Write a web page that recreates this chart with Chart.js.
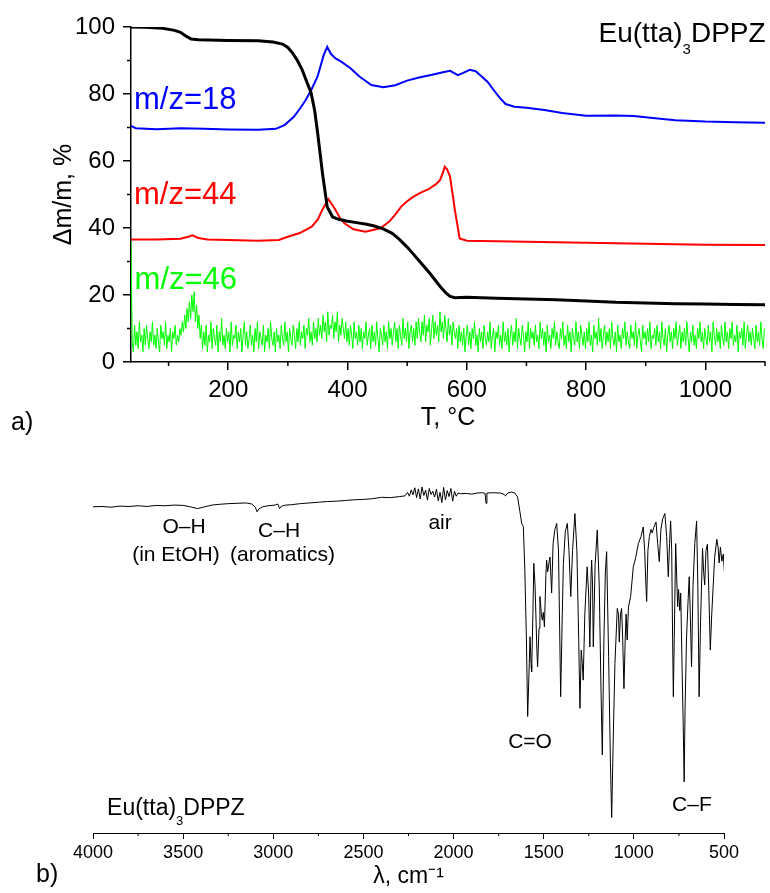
<!DOCTYPE html>
<html>
<head>
<meta charset="utf-8">
<script src="https://cdn.jsdelivr.net/npm/chart.js@4.4.1/dist/chart.umd.min.js"></script>
<style>
  body { margin: 0; background: #fff; width: 770px; height: 893px; position: relative; overflow: hidden;
         font-family: 'Liberation Sans', Arial, sans-serif; }
  canvas { position: absolute; left: 0; }
  #tga { top: 0; }
  #ir { top: 440px; }
  .panel { position: absolute; font-size: 25px; color: #000; line-height: 30px; }
</style>
</head>
<body>
<canvas id="tga" width="770" height="440"></canvas>
<canvas id="ir" width="770" height="453"></canvas>
<div class="panel" style="left:11px; top:406px;">a)</div>
<div class="panel" style="left:36px; top:858px;">b)</div>
<script>
// --- a) thermogravimetry + mass spectrometry ---
const tgaTemp = [37, 60, 90, 110, 120, 130, 138, 150, 200, 250, 275, 291, 300, 308, 316, 324, 332, 339, 345, 350,
                 358, 366, 375, 385, 398, 415, 432, 445, 459, 475, 487, 500, 509, 520, 538, 555, 565, 572, 580, 600,
                 650, 700, 750, 800, 850, 900, 950, 1000, 1050, 1100];
const tgaMass = [100.0, 99.9, 99.6, 99.0, 98.4, 97.2, 96.4, 96.2, 96.0, 95.9, 95.5, 94.9, 93.9, 92.2, 90.0, 87.2, 83.5, 80.3, 75.0, 68.3,
                 56.4, 46.3, 43.3, 42.6, 42.1, 41.6, 41.1, 40.6, 39.8, 38.4, 36.6, 34.3, 32.5, 30.2, 26.5, 22.6, 20.6, 19.6, 19.2, 19.3,
                 19.0, 18.8, 18.6, 18.2, 17.8, 17.6, 17.4, 17.3, 17.2, 17.1];

const ms18Temp = [37, 45, 80, 120, 160, 200, 250, 280, 295, 310, 320, 330, 340, 350, 360, 366, 372, 380, 390, 405,
                  420, 440, 460, 480, 500, 520, 540, 560, 572, 585, 595, 605, 615, 625, 635, 645, 655, 665, 680, 700,
                  730, 760, 800, 850, 880, 920, 950, 1000, 1050, 1100];
const ms18 = [70.5, 69.8, 69.5, 69.8, 69.6, 69.4, 69.3, 69.6, 70.8, 73.2, 75.6, 78.2, 81.5, 85.3, 91.6, 94.1, 92.0, 90.6, 89.6, 87.7,
              85.2, 82.7, 82.0, 82.6, 84.0, 84.9, 85.7, 86.5, 86.9, 85.6, 86.4, 87.2, 86.8, 85.2, 83.6, 81.2, 78.9, 77.0, 76.2, 75.9,
              75.2, 74.3, 73.5, 73.6, 73.4, 72.7, 72.2, 71.8, 71.6, 71.4];

const ms44Temp = [37, 80, 120, 133, 140, 150, 165, 200, 250, 285, 300, 320, 340, 350, 358, 368, 374, 380, 388, 395,
                  410, 430, 455, 470, 480, 490, 500, 510, 522, 535, 548, 555, 560, 563, 567, 572, 580, 588, 600, 700,
                  800, 900, 1000, 1100];
const ms44 = [36.6, 36.6, 36.8, 37.4, 37.8, 37.0, 36.6, 36.4, 36.2, 36.4, 37.4, 38.5, 40.4, 42.5, 45.5, 48.6, 47.0, 45.4, 42.8, 41.4,
              39.6, 38.9, 39.9, 41.9, 44.0, 46.4, 48.0, 49.3, 50.5, 51.5, 53.0, 54.3, 56.5, 58.3, 57.5, 55.3, 45.4, 36.9, 36.2, 35.9,
              35.6, 35.3, 35.0, 34.9];

// m/z=46 is sampled every 2 degrees starting at 37 (one row = 40 degrees)
const ms46Start = 37;
const ms46Step = 2;
const ms46 = [
  36, 6, 3, 11, 5, 9, 4, 12, 6, 8, 3, 10, 5, 11, 7, 4, 9, 6, 12, 5,
  8, 4, 10, 6, 3, 11, 7, 9, 5, 12, 4, 8, 6, 10, 3, 9, 7, 11, 5, 8,
  6, 10, 8, 12, 9, 14, 10, 16, 12, 18, 13, 20, 15, 21, 12, 17, 10, 14, 7, 11,
  4, 9, 5, 11, 3, 8, 6, 12, 4, 10, 7, 5, 11, 3, 9, 6, 13, 5, 8, 4,
  10, 6, 9, 3, 12, 5, 8, 7, 11, 4, 9, 6, 10, 3, 8, 12, 5, 9, 4, 7,
  11, 5, 8, 3, 10, 6, 12, 4, 9, 7, 5, 11, 3, 8, 6, 10, 4, 12, 7, 5,
  9, 3, 10, 6, 8, 4, 11, 7, 5, 12, 6, 9, 3, 10, 7, 5, 11, 8, 4, 10,
  6, 12, 5, 9, 7, 11, 4, 10, 8, 13, 6, 9, 5, 12, 7, 10, 6, 13, 8, 11,
  7, 14, 9, 12, 6, 15, 8, 11, 10, 14, 7, 12, 9, 15, 6, 11, 8, 13, 10, 7,
  12, 6, 10, 5, 11, 8, 4, 12, 7, 9, 5, 11, 6, 10, 4, 9, 7, 12, 5, 8,
  10, 4, 11, 6, 9, 5, 12, 7, 3, 10, 8, 5, 11, 6, 9, 4, 12, 7, 10, 5,
  9, 12, 6, 10, 4, 11, 8, 5, 13, 7, 10, 6, 12, 4, 9, 11, 6, 10, 5, 12,
  7, 13, 9, 6, 12, 8, 14, 6, 11, 9, 13, 5, 10, 14, 7, 12, 8, 11, 6, 15,
  9, 12, 7, 14, 10, 6, 13, 8, 11, 5, 12, 9, 7, 10, 4, 11, 6, 9, 5, 10,
  3, 8, 11, 5, 9, 4, 10, 7, 12, 5, 8, 3, 10, 6, 9, 4, 11, 7, 5, 9,
  6, 12, 4, 8, 10, 3, 9, 7, 11, 5, 8, 4, 12, 6, 9, 5, 10, 3, 8, 11,
  5, 9, 6, 13, 4, 10, 7, 5, 11, 8, 3, 9, 6, 12, 4, 10, 7, 9, 5, 11,
  6, 8, 4, 12, 7, 10, 5, 9, 3, 11, 6, 8, 4, 10, 7, 12, 5, 9, 6, 4,
  10, 7, 12, 5, 8, 4, 11, 6, 9, 3, 10, 7, 5, 12, 6, 9, 4, 11, 8, 5,
  9, 4, 10, 6, 12, 5, 8, 3, 11, 7, 9, 5, 13, 6, 10, 4, 8, 11, 5, 9,
  6, 10, 4, 12, 7, 5, 9, 3, 11, 6, 8, 4, 10, 7, 12, 5, 9, 6, 4, 11,
  7, 9, 5, 12, 4, 8, 10, 6, 3, 11, 7, 9, 5, 10, 6, 12, 4, 8, 7, 10,
  5, 11, 6, 9, 4, 12, 7, 5, 10, 3, 8, 11, 6, 9, 4, 10, 7, 12, 5, 8,
  11, 4, 9, 6, 10, 5, 12, 7, 3, 9, 6, 11, 5, 8, 4, 10, 7, 12, 6, 9,
  4, 10, 7, 5, 11, 6, 9, 3, 12, 8, 5, 10, 6, 9, 4, 11, 7, 5, 12, 6,
  9, 4, 10, 7, 12, 5, 8, 6, 11, 3, 9, 7, 10, 5, 12, 4, 8, 11, 6, 9,
  5, 10, 7, 4, 11, 6, 9, 5, 12, 7, 4, 10
];

const tempTicks = [200, 400, 600, 800, 1000];
const tempMinor = [100, 300, 500, 700, 900, 1100];
const massTicks = [0, 20, 40, 60, 80, 100];
const massMinor = [10, 30, 50, 70, 90];

// --- b) IR spectrum: [wavenumber, transmittance] ---
const irSpectrum = [
  [4000, 92.4], [3950, 92.5], [3900, 92.3], [3850, 92.6], [3800, 92.5], [3750, 92.7], [3700, 92.5], [3650, 92.8],
  [3600, 92.7], [3550, 92.9], [3500, 92.8], [3460, 92.4], [3420, 91.9], [3380, 92.4], [3340, 92.9], [3300, 93.1],
  [3250, 93.3], [3200, 93.4], [3150, 93.5], [3120, 93.2], [3100, 92.3], [3090, 91.0], [3080, 91.8], [3060, 92.4],
  [3030, 92.7], [2990, 92.9], [2975, 93.2], [2965, 91.9], [2955, 92.6], [2930, 92.9], [2900, 93.0], [2850, 93.3],
  [2800, 93.5], [2750, 93.7], [2700, 93.9], [2650, 94.0], [2600, 94.2], [2550, 94.4], [2500, 94.5], [2450, 94.7],
  [2400, 95.1], [2350, 95.0], [2300, 95.3], [2270, 95.5], [2255, 96.5], [2245, 95.4], [2235, 97.2], [2225, 95.8],
  [2215, 97.8], [2205, 95.0], [2195, 97.5], [2185, 94.6], [2175, 98.0], [2165, 95.6], [2155, 97.1], [2145, 94.3],
  [2135, 97.6], [2125, 95.9], [2115, 96.8], [2105, 95.2], [2095, 97.4], [2085, 94.1], [2075, 96.5], [2065, 93.6],
  [2055, 97.9], [2045, 94.4], [2035, 97.0], [2025, 95.3], [2015, 97.6], [2005, 94.0], [1995, 96.8], [1985, 95.4],
  [1975, 96.3], [1960, 96.1], [1930, 96.2], [1900, 96.0], [1870, 96.3], [1840, 96.4], [1825, 96.2], [1820, 93.4],
  [1815, 96.3], [1780, 96.4], [1740, 96.3], [1720, 95.9], [1712, 95.5], [1700, 96.3], [1680, 96.6], [1660, 96.3],
  [1645, 95.2], [1632, 91.0], [1622, 87.7], [1613, 86.8], [1605, 75.0], [1596, 55.0], [1589, 33.0], [1580, 48.0],
  [1576, 55.6], [1570, 47.6], [1567, 45.6], [1560, 62.0], [1555, 76.4], [1548, 70.0], [1538, 52.0], [1534, 47.1],
  [1526, 58.0], [1521, 67.0], [1513, 62.0], [1508, 60.3], [1502, 62.5], [1496, 58.4], [1488, 73.0], [1484, 77.3],
  [1478, 74.0], [1470, 76.8], [1465, 78.2], [1456, 68.0], [1448, 82.0], [1438, 86.0], [1428, 87.7], [1418, 80.0],
  [1406, 38.6], [1397, 62.0], [1391, 76.4], [1380, 85.5], [1369, 87.7], [1360, 80.0], [1350, 67.0], [1340, 80.0],
  [1327, 90.5], [1316, 80.0], [1306, 55.0], [1299, 35.3], [1292, 51.8], [1286, 48.0], [1281, 43.3], [1272, 62.0],
  [1259, 75.4], [1251, 68.0], [1244, 52.7], [1238, 72.0], [1234, 77.3], [1229, 70.0], [1225, 52.7], [1215, 76.0],
  [1203, 85.8], [1192, 70.0], [1182, 40.0], [1175, 22.1], [1166, 55.0], [1158, 74.0], [1151, 79.7], [1140, 50.0],
  [1130, 20.0], [1123, 4.4], [1115, 25.0], [1105, 48.0], [1092, 63.6], [1085, 62.0], [1081, 54.1], [1074, 62.0],
  [1068, 63.6], [1062, 55.0], [1055, 40.9], [1048, 55.0], [1043, 62.0], [1037, 54.7], [1030, 64.0], [1018, 67.0],
  [1003, 75.4], [990, 78.0], [975, 82.0], [960, 84.0], [948, 86.7], [940, 80.0], [933, 70.0], [929, 65.6],
  [922, 80.0], [914, 84.0], [905, 86.0], [898, 85.0], [890, 86.5], [877, 88.1], [868, 82.0], [859, 76.9],
  [850, 86.0], [840, 89.0], [828, 90.5], [818, 84.0], [809, 72.6], [802, 82.0], [796, 88.4], [790, 80.0],
  [785, 55.0], [781, 38.6], [776, 55.0], [768, 82.0], [762, 72.0], [757, 64.1], [752, 69.0], [745, 63.0],
  [740, 68.0], [732, 45.2], [726, 30.0], [721, 14.5], [716, 35.0], [708, 55.0], [700, 65.0], [693, 72.6],
  [687, 62.0], [680, 47.1], [672, 70.0], [662, 82.0], [652, 88.4], [645, 70.0], [638, 38.6], [630, 60.0],
  [619, 80.6], [613, 74.0], [607, 70.3], [600, 80.0], [592, 81.8], [585, 70.0], [576, 51.8], [568, 62.0],
  [560, 70.0], [552, 78.0], [540, 83.2], [533, 81.0], [527, 76.5], [520, 81.0], [512, 77.0], [504, 79.0],
  [497, 73.5]
];
const waveTicks = [4000, 3500, 3000, 2500, 2000, 1500, 1000, 500];
const waveMinor = [3750, 3250, 2750, 2250, 1750, 1250, 750];

const FONT = "'Liberation Sans', Arial, sans-serif";

function pairs(xs, ys) {
  return xs.map((x, i) => ({ x: x, y: ys[i] }));
}

// text with a lowered "3" and similar pieces: parts = [[text, 'n'|'s'], ...]
function drawRich(ctx, parts, x, y, align, size) {
  const big = size + 'px ' + FONT;
  const small = Math.round(size * 0.55) + 'px ' + FONT;
  let w = 0;
  parts.forEach(p => { ctx.font = p[1] === 's' ? small : big; w += ctx.measureText(p[0]).width; });
  let cx = align === 'right' ? x - w : (align === 'center' ? x - w / 2 : x);
  ctx.textAlign = 'left';
  ctx.textBaseline = 'middle';
  parts.forEach(p => {
    const sub = p[1] === 's';
    ctx.font = sub ? small : big;
    ctx.fillText(p[0], cx, sub ? y + size * 0.55 : y);
    cx += ctx.measureText(p[0]).width;
  });
}

// short outward ticks between the labelled ones
function minorTickPlugin(specs) {
  return {
    id: 'minorTicks',
    afterDraw(chart) {
      const ctx = chart.ctx;
      ctx.save();
      ctx.strokeStyle = '#000';
      specs.forEach(s => {
        const scale = chart.scales[s.axis];
        ctx.lineWidth = s.width;
        s.values.forEach(v => {
          const p = scale.getPixelForValue(v);
          ctx.beginPath();
          if (scale.isHorizontal()) {
            ctx.moveTo(p, scale.top);
            ctx.lineTo(p, scale.top + s.len);
          } else {
            ctx.moveTo(scale.right, p);
            ctx.lineTo(scale.right - s.len, p);
          }
          ctx.stroke();
        });
      });
      ctx.restore();
    }
  };
}

// labels placed in data coordinates
function labelPlugin(items) {
  return {
    id: 'labels',
    afterDatasetsDraw(chart) {
      const ctx = chart.ctx;
      const xs = chart.scales.x, ys = chart.scales.y;
      ctx.save();
      items.forEach(it => {
        ctx.fillStyle = it.color || '#000';
        drawRich(ctx, it.parts, xs.getPixelForValue(it.x), ys.getPixelForValue(it.y), it.align || 'left', it.size);
      });
      ctx.restore();
    }
  };
}

function fixTicks(values) {
  return scale => { scale.ticks = values.map(v => ({ value: v })); };
}

const plainNumber = v => String(v);

new Chart(document.getElementById('tga'), {
  type: 'line',
  data: {
    datasets: [
      { data: pairs(tgaTemp, tgaMass), borderColor: '#000000', borderWidth: 3 },
      { data: pairs(ms18Temp, ms18), borderColor: '#0000ff', borderWidth: 2 },
      { data: pairs(ms44Temp, ms44), borderColor: '#ff0000', borderWidth: 2 },
      { data: ms46.map((v, i) => ({ x: ms46Start + i * ms46Step, y: v })), borderColor: '#00ff00', borderWidth: 1 }
    ]
  },
  options: {
    responsive: false,
    animation: false,
    devicePixelRatio: 1,
    layout: { padding: { top: 27, right: 5, left: 0, bottom: 0 } },
    elements: { point: { radius: 0 }, line: { tension: 0, fill: false } },
    plugins: { legend: { display: false }, tooltip: { enabled: false } },
    scales: {
      x: {
        type: 'linear', min: 37, max: 1100,
        afterBuildTicks: fixTicks(tempTicks),
        afterFit: s => { s.height = 78; },
        grid: { drawOnChartArea: false, drawTicks: true, tickLength: 8, color: '#000', lineWidth: 1.5 },
        border: { color: '#000', width: 1.5 },
        ticks: { color: '#000', font: { size: 24, family: FONT }, padding: 6, maxRotation: 0, callback: plainNumber },
        title: { display: true, text: 'T, °C', color: '#000', font: { size: 25, family: FONT }, padding: { top: 0, bottom: 7 } }
      },
      y: {
        min: 0, max: 100,
        afterBuildTicks: fixTicks(massTicks),
        afterFit: s => { s.width = 131; },
        grid: { drawOnChartArea: false, drawTicks: true, tickLength: 8, color: '#000', lineWidth: 1.5 },
        border: { color: '#000', width: 1.5 },
        ticks: { color: '#000', font: { size: 24, family: FONT }, padding: 8, callback: plainNumber },
        title: { display: true, text: 'Δm/m, %', color: '#000', font: { size: 25, family: FONT }, padding: { top: 49, bottom: 0 } }
      }
    }
  },
  plugins: [
    minorTickPlugin([
      { axis: 'x', values: tempMinor, len: 4, width: 1.5 },
      { axis: 'y', values: massMinor, len: 4, width: 1.5 }
    ]),
    labelPlugin([
      { parts: [['m/z=18', 'n']], x: 42, y: 78.0, size: 31, color: '#0000ff' },
      { parts: [['m/z=44', 'n']], x: 42, y: 49.7, size: 31, color: '#ff0000' },
      { parts: [['m/z=46', 'n']], x: 43, y: 24.2, size: 31, color: '#00ff00' },
      { parts: [['Eu(tta)', 'n'], ['3', 's'], ['DPPZ', 'n']], x: 1101, y: 97.9, size: 28, align: 'right' }
    ])
  ]
});

new Chart(document.getElementById('ir'), {
  type: 'line',
  data: {
    datasets: [
      { data: irSpectrum.map(p => ({ x: p[0], y: p[1] })), borderColor: '#000000', borderWidth: 1 }
    ]
  },
  options: {
    responsive: false,
    animation: false,
    devicePixelRatio: 1,
    layout: { padding: { top: 40, right: 46, left: 93, bottom: 0 } },
    elements: { point: { radius: 0 }, line: { tension: 0, fill: false } },
    plugins: { legend: { display: false }, tooltip: { enabled: false } },
    scales: {
      x: {
        type: 'linear', min: 500, max: 4000, reverse: true,
        afterBuildTicks: fixTicks(waveTicks),
        afterFit: s => { s.height = 60; },
        grid: { drawOnChartArea: false, drawTicks: true, tickLength: 6, color: '#000', lineWidth: 1 },
        border: { color: '#000', width: 1 },
        ticks: { color: '#000', font: { size: 18, family: FONT }, padding: 3, maxRotation: 0, callback: plainNumber },
        title: { display: true, text: 'λ, cm⁻¹', color: '#000', font: { size: 23, family: FONT }, padding: { top: 0, bottom: 3 } }
      },
      y: { display: false, min: 0, max: 100 }
    }
  },
  plugins: [
    minorTickPlugin([{ axis: 'x', values: waveMinor, len: 3, width: 1 }]),
    labelPlugin([
      { parts: [['O–H', 'n']], x: 3495, y: 86.7, size: 21, align: 'center' },
      { parts: [['(in EtOH)', 'n']], x: 3540, y: 78.8, size: 21, align: 'center' },
      { parts: [['C–H', 'n']], x: 2968, y: 85.6, size: 21, align: 'center' },
      { parts: [['(aromatics)', 'n']], x: 2949, y: 78.8, size: 21, align: 'center' },
      { parts: [['air', 'n']], x: 2075, y: 87.8, size: 21, align: 'center' },
      { parts: [['C=O', 'n']], x: 1576, y: 25.8, size: 21, align: 'center' },
      { parts: [['C–F', 'n']], x: 678, y: 7.9, size: 21, align: 'center' },
      { parts: [['Eu(tta)', 'n'], ['3', 's'], ['DPPZ', 'n']], x: 3922, y: 6.8, size: 23 }
    ])
  ]
});
</script>
</body>
</html>
